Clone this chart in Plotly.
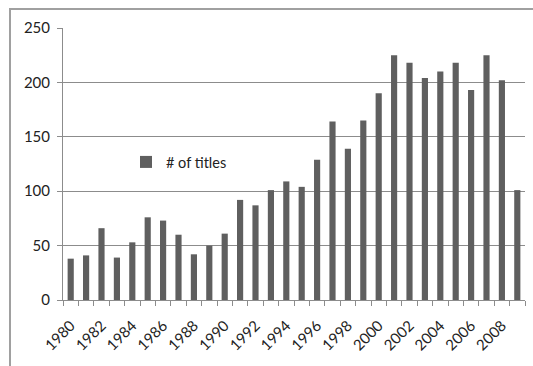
import plotly.graph_objects as go

years = list(range(1980, 2010))
titles = [38, 41, 66, 39, 53, 76, 73, 60, 42, 50, 61, 92, 87, 101, 109,
          104, 129, 164, 139, 165, 190, 225, 218, 204, 210, 218, 193, 225, 202, 101]
tick_years = list(range(1980, 2009, 2))
y_ticks = [0, 50, 100, 150, 200, 250]

W, H = 533, 366
L, R, T, B = 63, 8, 28, 66
pw, ph = W - L - R, H - T - B

fig = go.Figure()
fig.add_trace(go.Bar(x=years, y=titles, name="# of titles",
                     marker=dict(color="#5f5f5f", line=dict(width=0)),
                     width=0.4))

fig.update_layout(
    width=W, height=H,
    margin=dict(l=L, r=R, t=T, b=B),
    paper_bgcolor="white", plot_bgcolor="white",
    font=dict(family="Lato, Carlito, sans-serif", size=14, color="#222222"),
    showlegend=True,
    legend=dict(x=(126 - L) / pw, y=(300 - 162) / ph, xanchor="left", yanchor="middle",
                bgcolor="rgba(0,0,0,0)", font=dict(size=14.5),
                itemwidth=30),
    xaxis=dict(range=[1979.5, 2009.5], tickmode="array", tickvals=tick_years,
               ticktext=[str(y) for y in tick_years], tickangle=-45,
               tickfont=dict(size=15), ticklabelstandoff=10,
               ticks="", showgrid=False, showline=True, linecolor="#8c8c8c",
               linewidth=1, zeroline=False,
               minor=dict(tickmode="linear", tick0=1979.5, dtick=1, ticks="outside",
                          ticklen=5, tickcolor="#8c8c8c", showgrid=False)),
    yaxis=dict(range=[0, 250], tickmode="array", tickvals=y_ticks,
               tickfont=dict(size=15), ticklabelstandoff=4,
               ticks="outside", ticklen=5, tickcolor="#8c8c8c",
               showgrid=True, gridcolor="#8c8c8c", gridwidth=1,
               showline=True, linecolor="#8c8c8c", linewidth=1, zeroline=False),
    bargap=0.6,
)

# outer chart border (Excel-style frame)
fig.add_shape(type="rect", xref="paper", yref="paper",
              x0=(10 - L) / pw, x1=(560 - L) / pw,
              y0=-0.6, y1=(300 - 9) / ph,
              line=dict(color="#a0a0a0", width=2), fillcolor="rgba(0,0,0,0)",
              layer="below")

fig.write_html("out.html")
